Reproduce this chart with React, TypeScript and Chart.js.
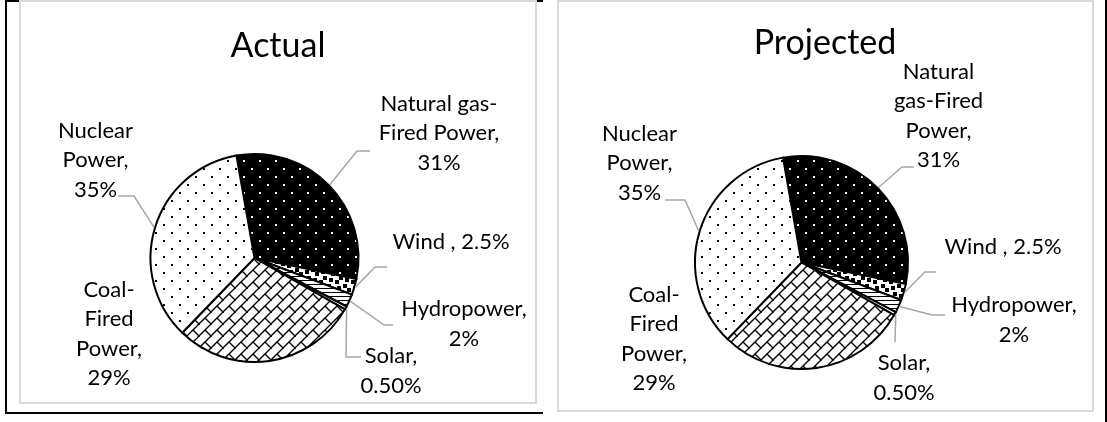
import React, { useEffect, useRef } from "react";
import { Chart, registerables } from "chart.js";

Chart.register(...registerables);

// ---------------- DATA ----------------
const categories = [
  "Natural gas-Fired Power",
  "Wind ",
  "Hydropower",
  "Solar",
  "Coal-Fired Power",
  "Nuclear Power",
];
const actualShares = [31, 2.5, 2, 0.5, 29, 35];
const projectedShares = [31, 2.5, 2, 0.5, 29, 35];

const actualLabelLines = [
  ["Natural gas-", "Fired Power,", "31%"],
  ["Wind , 2.5%"],
  ["Hydropower,", "2%"],
  ["Solar,", "0.50%"],
  ["Coal-", "Fired", "Power,", "29%"],
  ["Nuclear", "Power,", "35%"],
];
const projectedLabelLines = [
  ["Natural", "gas-Fired", "Power,", "31%"],
  ["Wind , 2.5%"],
  ["Hydropower,", "2%"],
  ["Solar,", "0.50%"],
  ["Coal-", "Fired", "Power,", "29%"],
  ["Nuclear", "Power,", "35%"],
];

// ---------------- STYLE / LAYOUT ----------------
const FONT = "Lato, 'Open Sans', sans-serif";
const LABEL_SIZE = 22;
const TITLE_SIZE = 34;
const LINE_H = 29.5;

type LabelPos = { dx: number; dy: number; elbow?: [number, number]; end?: [number, number] };

const actualLabelPos: LabelPos[] = [
  { dx: 184.5, dy: -125, elbow: [102.5, -107], end: [115.5, -107] },
  { dx: 196.5, dy: -16, elbow: [120.5, 9], end: [132.5, 9] },
  { dx: 209.5, dy: 66, elbow: [129.5, 67], end: [138.5, 67] },
  { dx: 136.5, dy: 113, elbow: [91.5, 99], end: [106.5, 99] },
  { dx: -145.5, dy: 76 },
  { dx: -159, dy: -98, elbow: [-120.5, -62], end: [-136.5, -62] },
];
const projectedLabelPos: LabelPos[] = [
  { dx: 137, dy: -146.5, elbow: [100.5, -95.5], end: [112.5, -95.5] },
  { dx: 201.5, dy: -15.5, elbow: [123.5, 9.5], end: [134.5, 9.5] },
  { dx: 212.5, dy: 57.5, elbow: [130.5, 52.5], end: [143.5, 52.5] },
  { dx: 102.5, dy: 115.5, elbow: [93.5, 79.5], end: [93.5, 79.5] },
  { dx: -147.5, dy: 76.5 },
  { dx: -162, dy: -99.5, elbow: [-116.5, -62.5], end: [-136.5, -62.5] },
];

// 8x8 hatch tiles (Excel-like)
const DOTS = ["X.......", "........", "........", "........", "....X...", "........", "........", "........"];
const CONFETTI = ["X...XX.X", "....XX..", "XX......", "XX.XX...", "...XX.XX", "......XX", "..XX....", "X.XX...X"];
const HORIZ = ["XXXXXXXX", "........", "........", "........"];
const PLAIN = ["........"];

function makePattern(rows: string[], bg: string, fg: string, scale: number): CanvasPattern | string {
  const c = document.createElement("canvas");
  c.width = rows[0].length * scale;
  c.height = rows.length * scale;
  const g = c.getContext("2d");
  if (!g) return bg;
  g.fillStyle = bg;
  g.fillRect(0, 0, c.width, c.height);
  g.fillStyle = fg;
  rows.forEach((r, y) =>
    r.split("").forEach((ch, x) => {
      if (ch === "X") g.fillRect(x * scale, y * scale, scale, scale);
    })
  );
  return g.createPattern(c, "repeat") || bg;
}

function makeBrickPattern(): CanvasPattern | string {
  const s = 12;
  const c = document.createElement("canvas");
  c.width = s;
  c.height = s;
  const g = c.getContext("2d");
  if (!g) return "#fff";
  g.fillStyle = "#fff";
  g.fillRect(0, 0, s, s);
  g.strokeStyle = "#000";
  g.lineWidth = 1.4;
  g.lineCap = "square";
  for (const ox of [-s, 0, s]) {
    for (const oy of [-s, 0, s]) {
      g.beginPath();
      g.moveTo(ox + s, oy);
      g.lineTo(ox, oy + s);
      g.moveTo(ox + s / 2, oy + s / 2);
      g.lineTo(ox + s, oy + s);
      g.stroke();
    }
  }
  return g.createPattern(c, "repeat") || "#fff";
}

type PieProps = {
  title: string;
  titleX: number;
  titleBaseline: number;
  values: number[];
  labelLines: string[][];
  labelPos: LabelPos[];
  width: number;
  height: number;
  padding: { left: number; right: number; top: number; bottom: number };
};

function PieChart(props: PieProps) {
  const ref = useRef<HTMLCanvasElement | null>(null);
  useEffect(() => {
    if (!ref.current) return;
    const fills = [
      makePattern(DOTS, "#000000", "#ffffff", 2),
      makePattern(CONFETTI, "#ffffff", "#000000", 2),
      makePattern(HORIZ, "#ffffff", "#000000", 1),
      makePattern(PLAIN, "#ffffff", "#000000", 1),
      makeBrickPattern(),
      makePattern(DOTS, "#ffffff", "#000000", 2),
    ];
    const labelPlugin = {
      id: "pieLabels",
      afterDraw(chart: any) {
        const ctx = chart.ctx as CanvasRenderingContext2D;
        const meta = chart.getDatasetMeta(0);
        ctx.save();
        ctx.fillStyle = "#000";
        ctx.font = `${TITLE_SIZE}px ${FONT}`;
        ctx.textAlign = "center";
        ctx.textBaseline = "alphabetic";
        ctx.fillText(props.title, props.titleX, props.titleBaseline);

        ctx.font = `${LABEL_SIZE}px ${FONT}`;
        ctx.textBaseline = "middle";
        meta.data.forEach((arc: any, i: number) => {
          const p = arc.getProps(["x", "y", "startAngle", "endAngle", "outerRadius"], true);
          const mid = (p.startAngle + p.endAngle) / 2;
          const R = p.outerRadius + 1;
          const lay = props.labelPos[i];
          if (lay.elbow && lay.end) {
            ctx.beginPath();
            ctx.strokeStyle = "#a6a6a6";
            ctx.lineWidth = 1.5;
            ctx.moveTo(p.x + Math.cos(mid) * R, p.y + Math.sin(mid) * R);
            ctx.lineTo(p.x + lay.elbow[0], p.y + lay.elbow[1]);
            ctx.lineTo(p.x + lay.end[0], p.y + lay.end[1]);
            ctx.stroke();
          }
          const lines = props.labelLines[i];
          const n = lines.length;
          ctx.fillStyle = "#000";
          lines.forEach((t, k) => {
            ctx.fillText(t, p.x + lay.dx, p.y + lay.dy + (k - (n - 1) / 2) * LINE_H);
          });
        });
        ctx.restore();
      },
    };
    const chart = new Chart(ref.current, {
      type: "pie",
      data: {
        labels: categories,
        datasets: [
          {
            data: props.values,
            backgroundColor: fills as any,
            borderColor: "#000000",
            borderWidth: 2,
            borderJoinStyle: "miter" as any,
          },
        ],
      },
      options: {
        responsive: false,
        animation: false,
        rotation: -10,
        layout: { padding: props.padding },
        plugins: {
          legend: { display: false },
          tooltip: { enabled: false },
          title: { display: false },
        },
      },
      plugins: [labelPlugin],
    });
    return () => chart.destroy();
  }, []);
  return (
    <canvas
      ref={ref}
      width={props.width}
      height={props.height}
      style={{ width: props.width, height: props.height, display: "block" }}
    />
  );
}

const abs = (l: number, t: number, w: number, h: number, extra: React.CSSProperties = {}): React.CSSProperties => ({
  position: "absolute",
  left: l,
  top: t,
  width: w,
  height: h,
  boxSizing: "border-box",
  ...extra,
});

export default function App() {
  return (
    <div style={{ position: "fixed", left: 0, top: 0, width: 1107, height: 422, background: "#fff", overflow: "hidden" }}>
      {/* outer black frame pieces */}
      <div style={abs(5, 0, 538, 2, { background: "#000" })} />
      <div style={abs(5, 0, 2, 414, { background: "#000" })} />
      <div style={abs(5, 412, 538, 2, { background: "#000" })} />
      <div style={abs(1105, 0, 2, 422, { background: "#000" })} />
      {/* chart boxes */}
      <div style={abs(19, 0, 518, 404, { border: "2px solid #d9d9d9", background: "#fff" })} />
      <div style={abs(557, 0, 537, 412, { border: "2px solid #d9d9d9", background: "#fff" })} />
      <div style={abs(19, 0, 518, 404)}>
        <PieChart
          title="Actual"
          titleX={259}
          titleBaseline={57}
          values={actualShares}
          labelLines={actualLabelLines}
          labelPos={actualLabelPos}
          width={518}
          height={404}
          padding={{ left: 130.5, right: 177.5, top: 153, bottom: 41 }}
        />
      </div>
      <div style={abs(557, 0, 537, 412)}>
        <PieChart
          title="Projected"
          titleX={268}
          titleBaseline={54}
          values={projectedShares}
          labelLines={projectedLabelLines}
          labelPos={projectedLabelPos}
          width={537}
          height={412}
          padding={{ left: 137, right: 185, top: 155, bottom: 42 }}
        />
      </div>
    </div>
  );
}
